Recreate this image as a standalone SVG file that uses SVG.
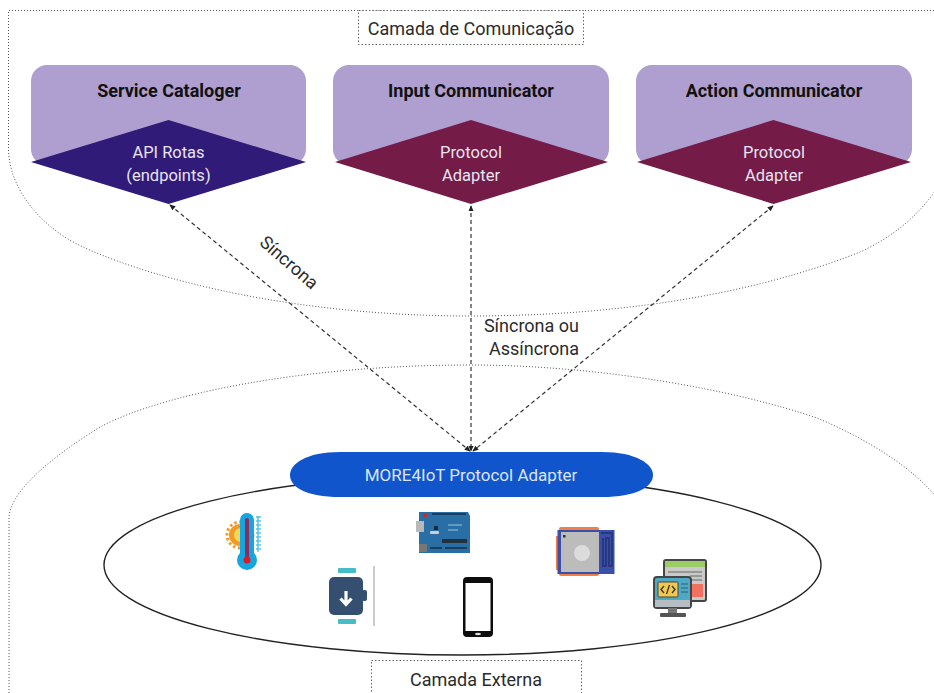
<svg xmlns="http://www.w3.org/2000/svg" width="934" height="693" viewBox="0 0 934 693">
<style>
text{font-family:Roboto,"Liberation Sans",sans-serif}
.lbl{font-size:18px;fill:#2b2b2b;text-anchor:middle}
.ttl{font-size:18px;font-weight:700;fill:#111;text-anchor:middle}
.dia{font-size:16.500px;fill:#e8e4f0;text-anchor:middle}
.card{fill:#ae9fd0}
.zone{fill:none;stroke:#555;stroke-width:1;stroke-dasharray:1 2}
.tag{fill:#fff;stroke:#666;stroke-width:1;stroke-dasharray:1.5 2}
.link{fill:none;stroke:#333;stroke-width:1.2;stroke-dasharray:4 3;marker-start:url(#ah);marker-end:url(#ah)}
</style>
<defs>
<marker id="ah" viewBox="0 0 8 8" refX="7" refY="4" markerWidth="6" markerHeight="6" orient="auto-start-reverse" markerUnits="userSpaceOnUse"><path d="M0,0.5 L8,4 L0,7.5 z" fill="#222"/></marker>
<filter id="soft" x="-10%" y="-10%" width="120%" height="120%"><feGaussianBlur stdDeviation="0.45"/></filter>
</defs>
<rect width="934" height="693" fill="#fff"/>

<g id="camada-comunicacao">
<path class="zone" d="M934,10.5 H8.5 V150 C10,195 48,231 83,247 C160,282 300,316 470,316 C640,316 770,288 860,252 C895,236 918,215 936,190"/>
<rect class="tag" x="358.500" y="10.500" width="225" height="34"/>
<text class="lbl" x="471" y="35">Camada de Comunicação</text>
</g>

<g id="camada-externa">
<path class="zone" d="M9,693 V518 C10,490 55,455 100,427 C160,395 300,365 470,365 C600,365 735,390 817,418 C870,440 915,470 936,497"/>
<rect class="tag" x="371.500" y="660.500" width="210" height="40"/>
<text class="lbl" x="476" y="686">Camada Externa</text>
</g>

<g id="dispositivos">
<ellipse cx="462.500" cy="565" rx="358.500" ry="90" fill="none" stroke="#222" stroke-width="1.400"/>
</g>

<g id="connectors">
<line class="link" x1="170" y1="205" x2="470" y2="451"/>
<line class="link" x1="471" y1="206" x2="471" y2="451"/>
<line class="link" x1="773" y1="206" x2="473" y2="451"/>
</g>

<g id="service-cataloger">
<rect class="card" x="31" y="65" width="275" height="100" rx="16"/>
<path d="M31,162 L168.500,120 L306,162 L168.500,204 z" fill="#311b78"/>
<text class="ttl" x="169" y="97">Service Cataloger</text>
<text class="dia" x="168.500" y="158">API Rotas</text>
<text class="dia" x="168.500" y="181">(endpoints)</text>
</g>

<g id="input-communicator">
<rect class="card" x="333" y="65" width="276" height="100" rx="16"/>
<path d="M335,162 L471,120 L608,162 L471,204 z" fill="#741b47"/>
<text class="ttl" x="471" y="97">Input Communicator</text>
<text class="dia" x="471" y="158">Protocol</text>
<text class="dia" x="471" y="181">Adapter</text>
</g>

<g id="action-communicator">
<rect class="card" x="636" y="65" width="276" height="100" rx="16"/>
<path d="M637,162 L773.500,120 L911,162 L773.500,204 z" fill="#741b47"/>
<text class="ttl" x="774" y="97">Action Communicator</text>
<text class="dia" x="774" y="158">Protocol</text>
<text class="dia" x="774" y="181">Adapter</text>
</g>

<g id="protocol-adapter">
<path d="M340,452 H602 C636,452 653,464 653,475 C653,487 636,497 602,497 H340 C306,497 290,487 290,475 C290,464 306,452 340,452 z" fill="#1155cc"/>
<text x="471" y="481" font-size="17" fill="#dbe6f7" text-anchor="middle">MORE4IoT Protocol Adapter</text>
</g>

<g id="label-sincrona">
<text class="lbl" transform="translate(285,267) rotate(41)" x="0" y="0">Síncrona</text>
</g>
<g id="label-sincrona-assincrona">
<text x="579" y="332" font-size="18" fill="#2b2b2b" text-anchor="end">Síncrona ou</text>
<text x="579" y="355" font-size="18" fill="#2b2b2b" text-anchor="end">Assíncrona</text>
</g>

<g id="icon-thermometer" filter="url(#soft)">
<circle cx="240" cy="535" r="13" fill="none" stroke="#f39a25" stroke-width="3" stroke-dasharray="2.500 2.500"/>
<circle cx="240" cy="535" r="11" fill="#f39a25"/>
<circle cx="241" cy="535" r="7" fill="#f0d85c"/>
<rect x="240" y="513" width="14" height="50" rx="7" fill="#13a5de"/>
<circle cx="247" cy="560" r="10" fill="#13a5de"/>
<rect x="245" y="518" width="4" height="42" rx="2" fill="#8b2f5c"/>
<circle cx="247" cy="560" r="3.500" fill="#d81e2c"/>
<path d="M256,517 H261 M256,521 H261 M256,525 H261 M256,529 H261 M256,533 H261 M256,537 H261 M256,541 H261 M256,545 H261 M256,549 H261 M258,516 V552" stroke="#5cc3ea" stroke-width="1.500" fill="none"/>
</g>

<g id="icon-arduino" filter="url(#soft)">
<path d="M420,512 H468 L470,516 V553 H419 V512 z" fill="#2b6ea6"/>
<rect x="416" y="521" width="8" height="11" fill="#b9b9b9"/>
<rect x="419" y="544" width="8" height="8" fill="#777"/>
<rect x="442" y="539" width="25" height="4" fill="#22303e"/>
<rect x="430" y="531" width="9" height="3" rx="1" fill="#c6ced6"/>
<rect x="434" y="526" width="4" height="4" fill="#1c2a38"/>
<rect x="423" y="513" width="4" height="4" fill="#b33"/>
<path d="M432,514 H466 M445,548 H467 M430,548 H442" stroke="#1d2f45" stroke-width="1.500"/>
<path d="M448,525 H462 M448,530 H458" stroke="#9fc3de" stroke-width="1"/>
</g>

<g id="icon-watch" filter="url(#soft)">
<rect x="338" y="568" width="18" height="5" rx="1" fill="#45bcc6"/>
<rect x="338" y="619" width="18" height="5" rx="1" fill="#45bcc6"/>
<rect x="329" y="577" width="34" height="38" rx="5" fill="#34506f"/>
<rect x="362" y="590" width="5" height="11" rx="2" fill="#34506f"/>
<path d="M346,591 V604 M340.500,598.500 L346,604.500 L351.500,598.500" fill="none" stroke="#fff" stroke-width="3.200"/>
<line x1="374" y1="566" x2="374" y2="626" stroke="#999" stroke-width="1"/>
</g>

<g id="icon-phone" filter="url(#soft)">
<rect x="463" y="577" width="30" height="60" rx="4" fill="#0c0c0c"/>
<rect x="465.500" y="583" width="25" height="48" fill="#fff"/>
<ellipse cx="478" cy="634" rx="3" ry="1.300" fill="#ddd"/>
</g>

<g id="icon-esp" filter="url(#soft)">
<rect x="559" y="527" width="40" height="49" rx="2" fill="#ef7f42"/>
<rect x="556" y="536" width="4" height="34" fill="#ef7f42"/>
<rect x="557.500" y="530" width="57" height="44" fill="#3a50a8"/>
<rect x="561" y="532" width="38" height="40" fill="#bcbcbc"/>
<circle cx="582" cy="553" r="8" fill="#dcdcdc"/>
<rect x="563" y="535" width="2.500" height="2.500" fill="#333"/>
<path d="M601,533 H612 V566 H609 V538 H606 V566 H603 V538" fill="none" stroke="#1f2f70" stroke-width="1.500"/>
</g>

<g id="icon-software" filter="url(#soft)">
<rect x="664" y="560" width="42" height="41" rx="2" fill="#c9c9c9" stroke="#444" stroke-width="2"/>
<rect x="665" y="561" width="40" height="6" fill="#9ccc65"/>
<rect x="691" y="584" width="12" height="13" fill="#f36f60"/>
<path d="M668,572 H702 M690,576 H702 M690,580 H702" stroke="#666" stroke-width="1"/>
<rect x="654" y="577" width="37" height="31" rx="3" fill="#4fa8c4" stroke="#444" stroke-width="2"/>
<rect x="655" y="600" width="35" height="7" fill="#b5bcc2"/>
<rect x="658" y="582" width="20" height="15" rx="1" fill="#f2c94c" stroke="#444"/>
<path d="M664,586 L661,589.500 L664,593 M672,586 L675,589.500 L672,593 M669.500,585 L666.500,594" fill="none" stroke="#333" stroke-width="1.300"/>
<path d="M681,584 H688 M681,588 H688 M681,592 H688" stroke="#2c5f75" stroke-width="1.200"/>
<rect x="668" y="608" width="9" height="5" fill="#777"/>
<rect x="660" y="613" width="26" height="4" rx="1" fill="#555"/>
</g>
</svg>
